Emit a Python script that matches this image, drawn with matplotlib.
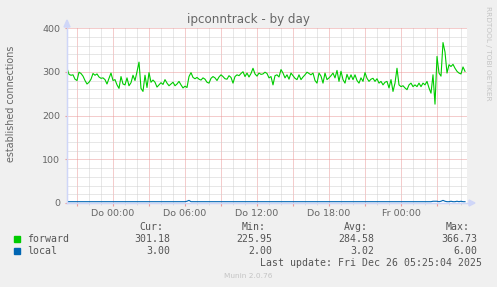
import matplotlib
matplotlib.use("Agg")
import matplotlib.pyplot as plt
from matplotlib.patches import Polygon, Rectangle
from matplotlib.lines import Line2D
from matplotlib.ticker import MultipleLocator, FuncFormatter

# time axis: minutes relative to Do 00:00, one sample every 10 minutes
t_start = -230
step = 10

forward = [
    308, 294, 292, 293, 283, 280, 299, 296, 290, 280, 272, 276, 283, 296, 292, 295, 288, 285, 286, 282,
    272, 285, 297, 280, 282, 270, 262, 289, 272, 270, 286, 268, 275, 292, 280, 300, 322, 262, 255, 292,
    264, 298, 276, 281, 276, 265, 270, 275, 271, 282, 274, 268, 272, 276, 268, 272, 278, 270, 263, 267,
    264, 289, 298, 287, 284, 287, 283, 281, 286, 283, 276, 274, 285, 289, 286, 280, 288, 293, 289, 284,
    283, 291, 287, 274, 289, 293, 291, 296, 300, 289, 297, 288, 296, 308, 295, 290, 297, 294, 295, 299,
    296, 286, 289, 270, 291, 293, 288, 305, 297, 286, 293, 283, 297, 291, 285, 282, 293, 282, 288, 293,
    299, 296, 293, 297, 280, 274, 297, 290, 274, 297, 282, 286, 291, 297, 286, 303, 278, 301, 282, 274,
    294, 282, 293, 282, 293, 280, 274, 286, 278, 298, 285, 278, 283, 285, 278, 284, 274, 278, 270, 276,
    278, 263, 282, 255, 274, 308, 270, 266, 268, 263, 259, 270, 274, 266, 270, 266, 274, 266, 274, 270,
    278, 263, 251, 293, 225.95, 335, 297, 290, 366.73, 345, 297, 316, 312, 317, 308, 301, 297, 295, 311, 301,
]

local = [
    3, 3, 3, 3, 3, 3, 3, 3, 3, 3, 3, 3, 3, 3, 3, 3, 3, 3, 3, 3,
    3, 3, 3, 3, 3, 3, 3, 3, 3, 3, 3, 3, 3, 3, 3, 3, 3, 3, 3, 3,
    3, 3, 3, 3, 3, 3, 3, 3, 3, 3, 3, 3, 3, 3, 3, 3, 3, 3, 3, 3,
    4, 6, 3, 3, 3, 3, 3, 3, 3, 3, 3, 3, 3, 3, 3, 3, 3, 3, 3, 3,
    3, 3, 3, 3, 3, 3, 3, 3, 3, 3, 3, 3, 3, 3, 3, 3, 3, 3, 3, 3,
    3, 3, 3, 3, 3, 3, 3, 3, 3, 3, 3, 3, 3, 3, 3, 3, 3, 3, 3, 3,
    3, 3, 3, 3, 3, 3, 3, 3, 3, 3, 3, 3, 3, 3, 3, 3, 3, 3, 3, 3,
    3, 3, 3, 3, 3, 3, 3, 3, 3, 3, 3, 3, 3, 3, 3, 3, 3, 3, 3, 3,
    3, 3, 3, 3, 3, 3, 3, 3, 3, 3, 3, 3, 3, 3, 3, 3, 3, 3, 3, 3,
    3, 3, 3, 4, 4, 4, 3, 4, 6, 4, 3, 3, 4, 3, 3, 4, 3, 4, 3, 3,
]

tick_minutes = [0, 360, 720, 1080, 1440]
tick_labels = ["Do 00:00", "Do 06:00", "Do 12:00", "Do 18:00", "Fr 00:00"]

series_names = ["forward", "local"]
series_colors = ["#00cc00", "#0066b3"]
stats_cur = ["301.18", "3.00"]
stats_min = ["225.95", "2.00"]
stats_avg = ["284.58", "3.02"]
stats_max = ["366.73", "6.00"]

W, H = 497, 287
fg = "#666666"
axcol = "#cfd6f8"

fig = plt.figure(figsize=(W / 100, H / 100), dpi=100, facecolor="#f0f0f0")


def px(x, y):
    return x / W, 1 - y / H


ax = fig.add_axes([67 / W, 1 - 203 / H, 400 / W, 175 / H], facecolor="white")

t = [t_start + i * step for i in range(len(forward))]
ax.plot(t, forward, color=series_colors[0], lw=0.8, zorder=3)
ax.plot(t, local, color=series_colors[1], lw=0.8, zorder=3)

ax.set_xlim(t_start, t_start + 2000)
ax.set_ylim(0, 400)

ax.xaxis.set_major_locator(MultipleLocator(180))
ax.xaxis.set_minor_locator(MultipleLocator(60))
ax.yaxis.set_major_locator(MultipleLocator(100))
ax.yaxis.set_minor_locator(MultipleLocator(20))
labmap = dict(zip(tick_minutes, tick_labels))
ax.xaxis.set_major_formatter(FuncFormatter(lambda v, p: labmap.get(int(round(v)), "")))

dots = (0, (1, 1))
ax.grid(which="minor", color="#d0d0d0", ls=dots, lw=0.72, zorder=1)
ax.grid(which="major", color="#eb9a9a", ls=dots, lw=0.72, zorder=2)
ax.set_axisbelow(True)

for s in ["top", "right"]:
    ax.spines[s].set_visible(False)
for s in ["left", "bottom"]:
    ax.spines[s].set_color(axcol)
    ax.spines[s].set_linewidth(0.9)

ax.tick_params(which="major", axis="x", length=2.5, color="#eb9a9a", labelsize=6.8,
               labelcolor=fg, pad=2)
ax.tick_params(which="minor", axis="x", length=1.5, color="#d4d4d4")
ax.tick_params(which="major", axis="y", length=1.5, color="#eb9a9a", labelsize=6.8,
               labelcolor=fg, pad=3.5)
ax.tick_params(which="minor", axis="y", length=0)

# axis arrows
fig.add_artist(Line2D([67 / W, 67 / W], [1 - 203 / H, 1 - 22 / H], color=axcol, lw=0.9))
fig.add_artist(Line2D([67 / W, 470 / W], [1 - 203 / H, 1 - 203 / H], color=axcol, lw=0.9))
fig.add_artist(Polygon([px(64, 27), px(70, 27), px(67, 20)], closed=True,
                       color=axcol, transform=fig.transFigure))
fig.add_artist(Polygon([px(469, 200), px(469, 206), px(475, 203)], closed=True,
                       color=axcol, transform=fig.transFigure))

fig.text(*px(248, 19), "ipconntrack - by day", ha="center", va="center",
         fontsize=8.6, color=fg)
fig.text(*px(11, 104), "established connections", ha="center", va="center",
         rotation=90, fontsize=6.9, color=fg)
fig.text(*px(488, 53), "RRDTOOL / TOBI OETIKER", ha="center", va="center",
         rotation=270, fontsize=5.3, color="#c4c4c4")
fig.text(*px(248, 276), "Munin 2.0.76", ha="center", va="center",
         fontsize=5.3, color="#c4c4c4")

mono = dict(family="DejaVu Sans Mono", fontsize=7.1, color="#555555", va="center")
for x, h in zip([163, 266, 368, 470], ["Cur:", "Min:", "Avg:", "Max:"]):
    fig.text(*px(x, 227), h, ha="right", **mono)

for k, name in enumerate(series_names):
    y = 239 + 12 * k
    fig.add_artist(Rectangle(px(14, y + 3), 6 / W, 6 / H, color=series_colors[k],
                             transform=fig.transFigure))
    fig.text(*px(27, y), name, ha="left", **mono)
    for x, v in zip([170, 272, 374, 477], [stats_cur[k], stats_min[k], stats_avg[k], stats_max[k]]):
        fig.text(*px(x, y), v, ha="right", **mono)

fig.text(*px(482, 263), "Last update: Fri Dec 26 05:25:04 2025", ha="right", **mono)

fig.savefig("out.png", dpi=100, facecolor=fig.get_facecolor())
